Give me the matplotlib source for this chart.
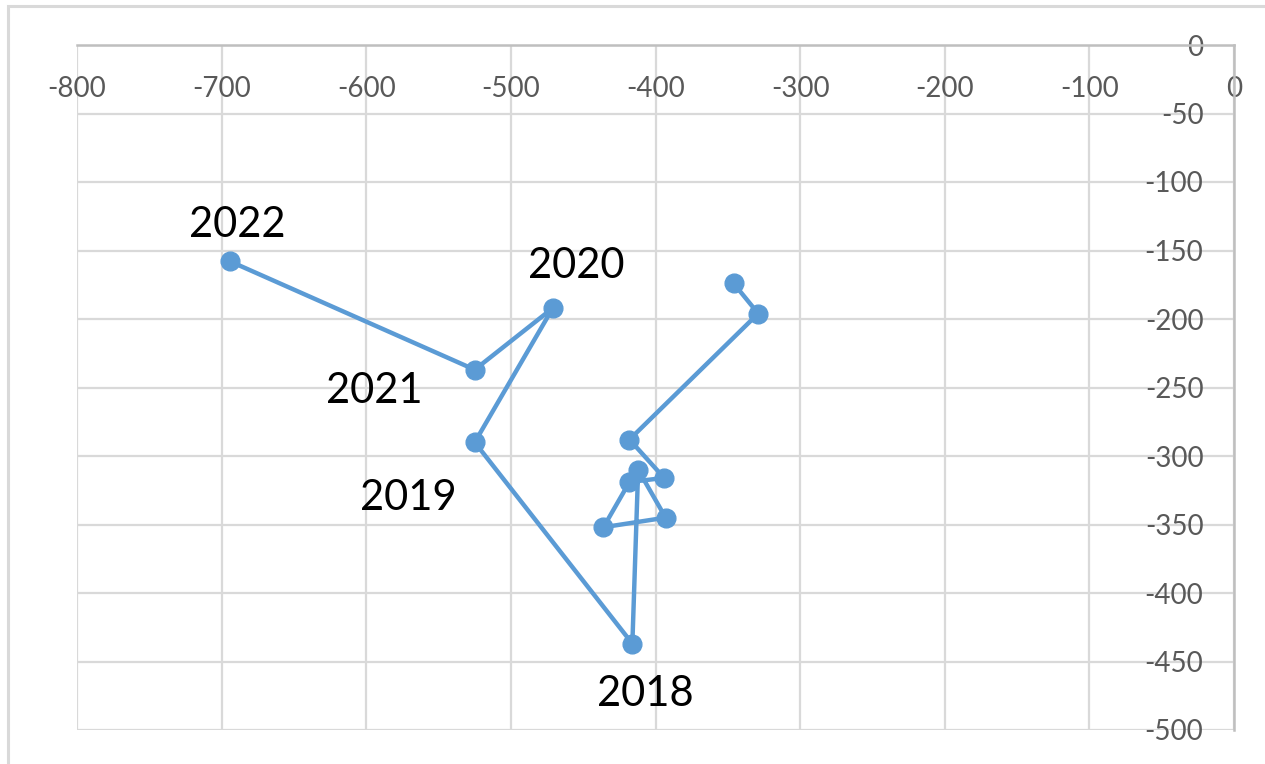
import matplotlib
matplotlib.use("Agg")
import matplotlib.pyplot as plt
from matplotlib.patches import Rectangle

# data (path in drawing order)
x_vals = [-694, -525, -471, -525, -416, -412, -393, -436, -418, -394, -418, -329, -346]
y_vals = [-158, -237, -192, -290, -437, -310, -345, -352, -319, -316, -288, -196, -174]
point_labels = ['2022', '2021', '2020', '2019', '2018']
label_offsets = [(5, 26), (-72, -15), (17, 30), (-48, -40), (9, -36)]

x_ticks = list(range(-800, 1, 100))
y_ticks = list(range(-500, 1, 50))

BLUE = '#5B9BD5'
GRID = '#D9D9D9'
AXIS = '#BFBFBF'
TICK_TXT = '#595959'

plt.rcParams['font.family'] = ['Lato', 'DejaVu Sans']
plt.rcParams['axes.unicode_minus'] = False

fig = plt.figure(figsize=(12.65, 7.64), dpi=100)
ax = fig.add_axes([77 / 1265, 1 - 730 / 764, (1234 - 77) / 1265, (730 - 45) / 764])

# outer chart frame
fig.patches.append(Rectangle((8 / 1265, -0.1), 1.2, 1.1 - 6 / 764, transform=fig.transFigure,
                             fill=False, edgecolor=GRID, linewidth=2.2))

ax.plot(x_vals, y_vals, color=BLUE, linewidth=3.2, marker='o', markersize=13.5,
        solid_capstyle='round', zorder=3, clip_on=False)

for i, (lab, off) in enumerate(zip(point_labels, label_offsets)):
    ax.annotate(lab, (x_vals[i], y_vals[i]), xytext=off, textcoords='offset points',
                ha='center', va='center', fontsize=30, color='black')

ax.set_xlim(-800, 0)
ax.set_ylim(-500, 0)
ax.set_xticks(x_ticks)
ax.set_yticks(y_ticks)
ax.grid(True, color=GRID, linewidth=1.6)
ax.set_axisbelow(True)

# axes cross at (0, 0) like the Excel chart
ax.spines['bottom'].set_position(('data', 0))
ax.spines['left'].set_position(('data', 0))
ax.spines['top'].set_visible(False)
ax.spines['right'].set_visible(False)
for s in ('bottom', 'left'):
    ax.spines[s].set_color(AXIS)
    ax.spines[s].set_linewidth(1.8)

ax.tick_params(axis='x', length=0, pad=22, labelsize=20, labelcolor=TICK_TXT)
ax.tick_params(axis='y', length=0, pad=22, labelsize=20, labelcolor=TICK_TXT)

fig.savefig('out.png', dpi=100)
